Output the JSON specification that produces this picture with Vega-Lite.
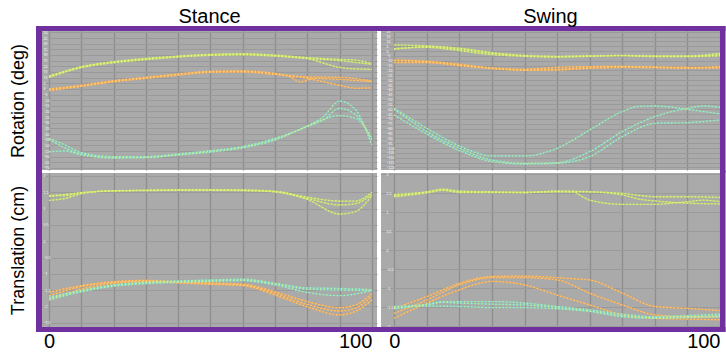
{
"$schema": "https://vega.github.io/schema/vega-lite/v6.json",
"background": "white",
"padding": {"left": 8, "top": 6, "right": 0, "bottom": 0},
"config": {
 "view": {"fill": "#aaaaaa", "stroke": null},
 "axis": {"domain": false, "ticks": false, "tickSize": 0, "tickCount": 200, "format": "~g", "labelFont": "Liberation Sans", "titleFont": "Liberation Sans", "labelOverlap": false, "titleFontWeight": "normal", "titleColor": "black", "labelFlush": false},
 "axisX": {"gridColor": "#8e8e8e", "gridOpacity": 1, "gridWidth": 1.3},
 "axisY": {"gridColor": "#9a9a9a", "gridOpacity": 1, "gridWidth": 1, "labelColor": "white", "labelFontSize": 3.5, "labelAlign": "left", "labelBaseline": "middle", "labelPadding": -1},
 "title": {"font": "Liberation Sans", "fontSize": 20, "fontWeight": "normal", "color": "black", "frame": "group", "anchor": "middle", "baseline": "alphabetic", "offset": -2}
},
"columns": 2,
"spacing": {"row": 3, "column": 4},
"bounds": "flush",
"concat": [
  {"width": 335, "height": 139, "title": "Stance",
   "data": {"values": [
    {"comp":"X","trial":1,"pct":0,"val":10.2},{"comp":"X","trial":1,"pct":10,"val":18.7},{"comp":"X","trial":1,"pct":20,"val":23.1},{"comp":"X","trial":1,"pct":30,"val":25.8},{"comp":"X","trial":1,"pct":40,"val":28.2},{"comp":"X","trial":1,"pct":50,"val":29.6},{"comp":"X","trial":1,"pct":60,"val":30.2},{"comp":"X","trial":1,"pct":70,"val":29.0},{"comp":"X","trial":1,"pct":80,"val":26.7},{"comp":"X","trial":1,"pct":90,"val":19.0},{"comp":"X","trial":1,"pct":95,"val":17.6},{"comp":"X","trial":1,"pct":100,"val":17.3},
    {"comp":"X","trial":2,"pct":0,"val":10.8},{"comp":"X","trial":2,"pct":10,"val":19.6},{"comp":"X","trial":2,"pct":20,"val":24.0},{"comp":"X","trial":2,"pct":30,"val":27.0},{"comp":"X","trial":2,"pct":40,"val":29.0},{"comp":"X","trial":2,"pct":50,"val":30.5},{"comp":"X","trial":2,"pct":60,"val":31.1},{"comp":"X","trial":2,"pct":70,"val":29.9},{"comp":"X","trial":2,"pct":80,"val":27.6},{"comp":"X","trial":2,"pct":90,"val":26.1},{"comp":"X","trial":2,"pct":95,"val":25.5},{"comp":"X","trial":2,"pct":100,"val":22.3},
    {"comp":"X","trial":3,"pct":0,"val":11.4},{"comp":"X","trial":3,"pct":10,"val":19.3},{"comp":"X","trial":3,"pct":20,"val":23.7},{"comp":"X","trial":3,"pct":30,"val":26.4},{"comp":"X","trial":3,"pct":40,"val":28.5},{"comp":"X","trial":3,"pct":50,"val":30.2},{"comp":"X","trial":3,"pct":60,"val":30.5},{"comp":"X","trial":3,"pct":70,"val":29.3},{"comp":"X","trial":3,"pct":80,"val":27.0},{"comp":"X","trial":3,"pct":90,"val":24.9},{"comp":"X","trial":3,"pct":100,"val":21.7},
    {"comp":"Y","trial":1,"pct":0,"val":-1.6},{"comp":"Y","trial":1,"pct":10,"val":2.2},{"comp":"Y","trial":1,"pct":20,"val":6.3},{"comp":"Y","trial":1,"pct":30,"val":9.3},{"comp":"Y","trial":1,"pct":40,"val":12.2},{"comp":"Y","trial":1,"pct":50,"val":14.6},{"comp":"Y","trial":1,"pct":60,"val":14.9},{"comp":"Y","trial":1,"pct":70,"val":12.8},{"comp":"Y","trial":1,"pct":80,"val":9.3},{"comp":"Y","trial":1,"pct":90,"val":3.1},{"comp":"Y","trial":1,"pct":95,"val":0.5},{"comp":"Y","trial":1,"pct":100,"val":1.0},
    {"comp":"Y","trial":2,"pct":0,"val":-0.1},{"comp":"Y","trial":2,"pct":10,"val":3.1},{"comp":"Y","trial":2,"pct":20,"val":7.2},{"comp":"Y","trial":2,"pct":30,"val":10.2},{"comp":"Y","trial":2,"pct":40,"val":13.1},{"comp":"Y","trial":2,"pct":50,"val":15.5},{"comp":"Y","trial":2,"pct":60,"val":15.8},{"comp":"Y","trial":2,"pct":70,"val":13.7},{"comp":"Y","trial":2,"pct":75,"val":10.2},{"comp":"Y","trial":2,"pct":78,"val":6.0},{"comp":"Y","trial":2,"pct":82,"val":9.3},{"comp":"Y","trial":2,"pct":90,"val":8.4},{"comp":"Y","trial":2,"pct":100,"val":6.3},
    {"comp":"Y","trial":3,"pct":0,"val":-0.7},{"comp":"Y","trial":3,"pct":10,"val":2.8},{"comp":"Y","trial":3,"pct":20,"val":6.6},{"comp":"Y","trial":3,"pct":30,"val":9.9},{"comp":"Y","trial":3,"pct":40,"val":12.8},{"comp":"Y","trial":3,"pct":50,"val":15.2},{"comp":"Y","trial":3,"pct":60,"val":15.5},{"comp":"Y","trial":3,"pct":70,"val":13.1},{"comp":"Y","trial":3,"pct":80,"val":10.5},{"comp":"Y","trial":3,"pct":90,"val":10.2},{"comp":"Y","trial":3,"pct":100,"val":6.9},
    {"comp":"Z","trial":1,"pct":0,"val":-43.8},{"comp":"Z","trial":1,"pct":5,"val":-49.7},{"comp":"Z","trial":1,"pct":10,"val":-56.5},{"comp":"Z","trial":1,"pct":20,"val":-60.0},{"comp":"Z","trial":1,"pct":30,"val":-60.0},{"comp":"Z","trial":1,"pct":40,"val":-57.6},{"comp":"Z","trial":1,"pct":50,"val":-54.7},{"comp":"Z","trial":1,"pct":60,"val":-51.1},{"comp":"Z","trial":1,"pct":70,"val":-43.8},{"comp":"Z","trial":1,"pct":80,"val":-32.9},{"comp":"Z","trial":1,"pct":85,"val":-24.6},{"comp":"Z","trial":1,"pct":90,"val":-10.8},{"comp":"Z","trial":1,"pct":95,"val":-18.7},{"comp":"Z","trial":1,"pct":100,"val":-49.7},
    {"comp":"Z","trial":2,"pct":0,"val":-44.7},{"comp":"Z","trial":2,"pct":10,"val":-57.6},{"comp":"Z","trial":2,"pct":20,"val":-60.6},{"comp":"Z","trial":2,"pct":30,"val":-60.6},{"comp":"Z","trial":2,"pct":40,"val":-58.2},{"comp":"Z","trial":2,"pct":50,"val":-55.3},{"comp":"Z","trial":2,"pct":60,"val":-51.7},{"comp":"Z","trial":2,"pct":70,"val":-44.4},{"comp":"Z","trial":2,"pct":80,"val":-33.5},{"comp":"Z","trial":2,"pct":85,"val":-27.6},{"comp":"Z","trial":2,"pct":90,"val":-17.2},{"comp":"Z","trial":2,"pct":95,"val":-23.1},{"comp":"Z","trial":2,"pct":100,"val":-43.8},
    {"comp":"Z","trial":3,"pct":0,"val":-55.6},{"comp":"Z","trial":3,"pct":5,"val":-55.0},{"comp":"Z","trial":3,"pct":10,"val":-58.5},{"comp":"Z","trial":3,"pct":20,"val":-61.2},{"comp":"Z","trial":3,"pct":30,"val":-60.9},{"comp":"Z","trial":3,"pct":40,"val":-58.5},{"comp":"Z","trial":3,"pct":50,"val":-55.9},{"comp":"Z","trial":3,"pct":60,"val":-52.3},{"comp":"Z","trial":3,"pct":70,"val":-45.3},{"comp":"Z","trial":3,"pct":80,"val":-32.9},{"comp":"Z","trial":3,"pct":90,"val":-23.7},{"comp":"Z","trial":3,"pct":95,"val":-26.1},{"comp":"Z","trial":3,"pct":100,"val":-45.3}
   ]},
   "layer": [
    {"mark": {"type": "line", "interpolate": "monotone", "strokeWidth": 1.3, "opacity": 0.85},
     "encoding": {
      "x": {"field": "pct", "type": "quantitative", "scale": {"domain": [-2.2, 101.6], "nice": false, "zero": false}, "axis": {"values": [0,10,20,30,40,50,60,70,80,90,100], "labels": false, "title": null}},
      "y": {"field": "val", "type": "quantitative", "scale": {"domain": [-71.8, 51.2], "nice": false, "zero": false}, "axis": {"values": [-70,-65,-60,-55,-50,-45,-40,-35,-30,-25,-20,-15,-10,-5,0,5,10,15,20,25,30,35,40,45,50], "title": "Rotation (deg)", "titleFontSize": 18, "titleX": -24, "titleBaseline": "middle"}},
      "color": {"field": "comp", "type": "nominal", "scale": {"domain": ["X","Y","Z"], "range": ["#b4da6e","#f0a25c","#74d2cf"]}, "legend": null},
      "detail": {"field": "trial"}}},
    {"mark": {"type": "line", "interpolate": "monotone", "strokeWidth": 1.3, "strokeDash": [1.5, 2], "opacity": 0.9},
     "encoding": {
      "x": {"field": "pct", "type": "quantitative"},
      "y": {"field": "val", "type": "quantitative"},
      "stroke": {"field": "comp", "type": "nominal", "scale": {"domain": ["X","Y","Z"], "range": ["#eef07c","#f8d070","#cdeb98"]}, "legend": null},
      "detail": {"field": "trial"}}},
    {"data": {"values": [{}]}, "mark": {"type": "rule", "color": "#7030a0", "strokeWidth": 6, "strokeCap": "square", "xOffset": -3, "yOffset": -2},
     "encoding": {"x": {"value": 0}, "y": {"value": 0}, "y2": {"value": "height"}}},
    {"data": {"values": [{}]}, "mark": {"type": "rule", "color": "#7030a0", "strokeWidth": 5, "strokeCap": "square", "yOffset": -2.5, "xOffset": -3.5},
     "encoding": {"y": {"value": 0}, "x": {"value": 0}, "x2": {"value": "width"}}}
   ]},
  {"width": 339, "height": 139, "title": "Swing",
   "data": {"values": [
    {"comp":"X","trial":1,"pct":0,"val":6.3},{"comp":"X","trial":1,"pct":10,"val":5.3},{"comp":"X","trial":1,"pct":20,"val":2.9},{"comp":"X","trial":1,"pct":30,"val":-1.6},{"comp":"X","trial":1,"pct":40,"val":-4.4},{"comp":"X","trial":1,"pct":50,"val":-5.4},{"comp":"X","trial":1,"pct":60,"val":-5.0},{"comp":"X","trial":1,"pct":70,"val":-4.4},{"comp":"X","trial":1,"pct":80,"val":-5.0},{"comp":"X","trial":1,"pct":90,"val":-5.0},{"comp":"X","trial":1,"pct":100,"val":-2.3},
    {"comp":"X","trial":2,"pct":0,"val":1.8},{"comp":"X","trial":2,"pct":10,"val":4.6},{"comp":"X","trial":2,"pct":20,"val":1.8},{"comp":"X","trial":2,"pct":30,"val":-2.3},{"comp":"X","trial":2,"pct":40,"val":-5.0},{"comp":"X","trial":2,"pct":50,"val":-5.7},{"comp":"X","trial":2,"pct":60,"val":-5.0},{"comp":"X","trial":2,"pct":70,"val":-4.7},{"comp":"X","trial":2,"pct":80,"val":-5.7},{"comp":"X","trial":2,"pct":90,"val":-5.7},{"comp":"X","trial":2,"pct":100,"val":-5.0},
    {"comp":"X","trial":3,"pct":0,"val":2.5},{"comp":"X","trial":3,"pct":10,"val":3.9},{"comp":"X","trial":3,"pct":20,"val":0.4},{"comp":"X","trial":3,"pct":30,"val":-3.7},{"comp":"X","trial":3,"pct":40,"val":-5.4},{"comp":"X","trial":3,"pct":50,"val":-6.1},{"comp":"X","trial":3,"pct":60,"val":-5.4},{"comp":"X","trial":3,"pct":70,"val":-4.7},{"comp":"X","trial":3,"pct":80,"val":-5.4},{"comp":"X","trial":3,"pct":90,"val":-5.4},{"comp":"X","trial":3,"pct":100,"val":-3.7},
    {"comp":"Y","trial":1,"pct":0,"val":-9.2},{"comp":"Y","trial":1,"pct":10,"val":-10.5},{"comp":"Y","trial":1,"pct":20,"val":-13.6},{"comp":"Y","trial":1,"pct":30,"val":-17.8},{"comp":"Y","trial":1,"pct":40,"val":-19.5},{"comp":"Y","trial":1,"pct":50,"val":-18.8},{"comp":"Y","trial":1,"pct":60,"val":-16.7},{"comp":"Y","trial":1,"pct":70,"val":-16.0},{"comp":"Y","trial":1,"pct":80,"val":-16.7},{"comp":"Y","trial":1,"pct":90,"val":-17.1},{"comp":"Y","trial":1,"pct":100,"val":-16.0},
    {"comp":"Y","trial":2,"pct":0,"val":-11.9},{"comp":"Y","trial":2,"pct":10,"val":-11.9},{"comp":"Y","trial":2,"pct":20,"val":-15.0},{"comp":"Y","trial":2,"pct":30,"val":-18.1},{"comp":"Y","trial":2,"pct":40,"val":-19.8},{"comp":"Y","trial":2,"pct":50,"val":-19.5},{"comp":"Y","trial":2,"pct":60,"val":-17.8},{"comp":"Y","trial":2,"pct":70,"val":-16.7},{"comp":"Y","trial":2,"pct":80,"val":-17.1},{"comp":"Y","trial":2,"pct":90,"val":-17.8},{"comp":"Y","trial":2,"pct":100,"val":-16.7},
    {"comp":"Y","trial":3,"pct":0,"val":-9.9},{"comp":"Y","trial":3,"pct":10,"val":-11.2},{"comp":"Y","trial":3,"pct":20,"val":-14.3},{"comp":"Y","trial":3,"pct":30,"val":-17.4},{"comp":"Y","trial":3,"pct":40,"val":-18.8},{"comp":"Y","trial":3,"pct":50,"val":-16.7},{"comp":"Y","trial":3,"pct":60,"val":-16.0},{"comp":"Y","trial":3,"pct":70,"val":-15.7},{"comp":"Y","trial":3,"pct":80,"val":-16.4},{"comp":"Y","trial":3,"pct":90,"val":-16.7},{"comp":"Y","trial":3,"pct":100,"val":-17.4},
    {"comp":"Z","trial":1,"pct":0,"val":-59.0},{"comp":"Z","trial":1,"pct":10,"val":-79.6},{"comp":"Z","trial":1,"pct":20,"val":-97.8},{"comp":"Z","trial":1,"pct":30,"val":-108.1},{"comp":"Z","trial":1,"pct":40,"val":-108.1},{"comp":"Z","trial":1,"pct":50,"val":-100.2},{"comp":"Z","trial":1,"pct":60,"val":-81.3},{"comp":"Z","trial":1,"pct":70,"val":-62.4},{"comp":"Z","trial":1,"pct":75,"val":-57.0},{"comp":"Z","trial":1,"pct":80,"val":-56.6},{"comp":"Z","trial":1,"pct":90,"val":-60.0},{"comp":"Z","trial":1,"pct":95,"val":-62.4},{"comp":"Z","trial":1,"pct":100,"val":-64.8},
    {"comp":"Z","trial":2,"pct":0,"val":-60.0},{"comp":"Z","trial":2,"pct":10,"val":-83.0},{"comp":"Z","trial":2,"pct":20,"val":-100.2},{"comp":"Z","trial":2,"pct":30,"val":-112.3},{"comp":"Z","trial":2,"pct":40,"val":-115.7},{"comp":"Z","trial":2,"pct":50,"val":-115.0},{"comp":"Z","trial":2,"pct":60,"val":-103.7},{"comp":"Z","trial":2,"pct":70,"val":-83.0},{"comp":"Z","trial":2,"pct":80,"val":-67.6},{"comp":"Z","trial":2,"pct":90,"val":-59.0},{"comp":"Z","trial":2,"pct":95,"val":-56.6},{"comp":"Z","trial":2,"pct":100,"val":-58.0},
    {"comp":"Z","trial":3,"pct":0,"val":-65.9},{"comp":"Z","trial":3,"pct":10,"val":-85.5},{"comp":"Z","trial":3,"pct":20,"val":-102.6},{"comp":"Z","trial":3,"pct":30,"val":-114.0},{"comp":"Z","trial":3,"pct":40,"val":-116.4},{"comp":"Z","trial":3,"pct":50,"val":-115.7},{"comp":"Z","trial":3,"pct":60,"val":-108.8},{"comp":"Z","trial":3,"pct":70,"val":-88.2},{"comp":"Z","trial":3,"pct":80,"val":-74.5},{"comp":"Z","trial":3,"pct":90,"val":-73.8},{"comp":"Z","trial":3,"pct":100,"val":-71.0}
   ]},
   "layer": [
    {"mark": {"type": "line", "interpolate": "monotone", "strokeWidth": 1.3, "opacity": 0.85},
     "encoding": {
      "x": {"field": "pct", "type": "quantitative", "scale": {"domain": [-4.05, 100], "nice": false, "zero": false}, "axis": {"values": [0,10,20,30,40,50,60,70,80,90,100], "labels": false, "title": null}},
      "y": {"field": "val", "type": "quantitative", "scale": {"domain": [-122.6, 20.7], "nice": false, "zero": false}, "axis": {"values": [-120,-115,-110,-105,-100,-95,-90,-85,-80,-75,-70,-65,-60,-55,-50,-45,-40,-35,-30,-25,-20,-15,-10,-5,0,5,10,15,20], "title": null, "labelPadding": -5}},
      "color": {"field": "comp", "type": "nominal", "scale": {"domain": ["X","Y","Z"], "range": ["#b4da6e","#f0a25c","#74d2cf"]}, "legend": null},
      "detail": {"field": "trial"}}},
    {"mark": {"type": "line", "interpolate": "monotone", "strokeWidth": 1.3, "strokeDash": [1.5, 2], "opacity": 0.9},
     "encoding": {
      "x": {"field": "pct", "type": "quantitative"},
      "y": {"field": "val", "type": "quantitative"},
      "stroke": {"field": "comp", "type": "nominal", "scale": {"domain": ["X","Y","Z"], "range": ["#eef07c","#f8d070","#cdeb98"]}, "legend": null},
      "detail": {"field": "trial"}}},
    {"data": {"values": [{}]}, "mark": {"type": "rule", "color": "#7030a0", "strokeWidth": 5, "strokeCap": "square", "yOffset": -2.5, "x2Offset": 3},
     "encoding": {"y": {"value": 0}, "x": {"value": 0}, "x2": {"value": "width"}}},
    {"data": {"values": [{}]}, "mark": {"type": "rule", "color": "#7030a0", "strokeWidth": 5.5, "strokeCap": "square", "xOffset": 2.75, "yOffset": -2},
     "encoding": {"x": {"value": "width"}, "y": {"value": 0}, "y2": {"value": "height"}}}
   ]},
  {"width": 335, "height": 154,
   "data": {"values": [
    {"comp":"X","trial":1,"pct":0,"val":1.40},{"comp":"X","trial":1,"pct":5,"val":1.40},{"comp":"X","trial":1,"pct":10,"val":1.49},{"comp":"X","trial":1,"pct":20,"val":1.54},{"comp":"X","trial":1,"pct":30,"val":1.56},{"comp":"X","trial":1,"pct":40,"val":1.57},{"comp":"X","trial":1,"pct":50,"val":1.57},{"comp":"X","trial":1,"pct":60,"val":1.57},{"comp":"X","trial":1,"pct":70,"val":1.53},{"comp":"X","trial":1,"pct":80,"val":1.35},{"comp":"X","trial":1,"pct":90,"val":1.23},{"comp":"X","trial":1,"pct":95,"val":1.23},{"comp":"X","trial":1,"pct":100,"val":1.50},
    {"comp":"X","trial":2,"pct":0,"val":1.37},{"comp":"X","trial":2,"pct":10,"val":1.48},{"comp":"X","trial":2,"pct":20,"val":1.54},{"comp":"X","trial":2,"pct":30,"val":1.56},{"comp":"X","trial":2,"pct":40,"val":1.57},{"comp":"X","trial":2,"pct":50,"val":1.57},{"comp":"X","trial":2,"pct":60,"val":1.56},{"comp":"X","trial":2,"pct":70,"val":1.52},{"comp":"X","trial":2,"pct":80,"val":1.31},{"comp":"X","trial":2,"pct":90,"val":1.11},{"comp":"X","trial":2,"pct":95,"val":1.15},{"comp":"X","trial":2,"pct":100,"val":1.44},
    {"comp":"X","trial":3,"pct":0,"val":1.25},{"comp":"X","trial":3,"pct":5,"val":1.31},{"comp":"X","trial":3,"pct":10,"val":1.46},{"comp":"X","trial":3,"pct":20,"val":1.55},{"comp":"X","trial":3,"pct":30,"val":1.55},{"comp":"X","trial":3,"pct":40,"val":1.56},{"comp":"X","trial":3,"pct":50,"val":1.56},{"comp":"X","trial":3,"pct":60,"val":1.55},{"comp":"X","trial":3,"pct":70,"val":1.51},{"comp":"X","trial":3,"pct":80,"val":1.28},{"comp":"X","trial":3,"pct":90,"val":0.83},{"comp":"X","trial":3,"pct":95,"val":0.91},{"comp":"X","trial":3,"pct":100,"val":1.40},
    {"comp":"Y","trial":1,"pct":0,"val":-1.57},{"comp":"Y","trial":1,"pct":10,"val":-1.36},{"comp":"Y","trial":1,"pct":20,"val":-1.24},{"comp":"Y","trial":1,"pct":30,"val":-1.20},{"comp":"Y","trial":1,"pct":40,"val":-1.24},{"comp":"Y","trial":1,"pct":50,"val":-1.28},{"comp":"Y","trial":1,"pct":60,"val":-1.32},{"comp":"Y","trial":1,"pct":70,"val":-1.55},{"comp":"Y","trial":1,"pct":80,"val":-1.85},{"comp":"Y","trial":1,"pct":90,"val":-2.04},{"comp":"Y","trial":1,"pct":95,"val":-1.95},{"comp":"Y","trial":1,"pct":100,"val":-1.60},
    {"comp":"Y","trial":2,"pct":0,"val":-1.67},{"comp":"Y","trial":2,"pct":10,"val":-1.39},{"comp":"Y","trial":2,"pct":20,"val":-1.26},{"comp":"Y","trial":2,"pct":30,"val":-1.22},{"comp":"Y","trial":2,"pct":40,"val":-1.26},{"comp":"Y","trial":2,"pct":50,"val":-1.30},{"comp":"Y","trial":2,"pct":60,"val":-1.34},{"comp":"Y","trial":2,"pct":70,"val":-1.60},{"comp":"Y","trial":2,"pct":80,"val":-1.94},{"comp":"Y","trial":2,"pct":90,"val":-2.14},{"comp":"Y","trial":2,"pct":95,"val":-2.05},{"comp":"Y","trial":2,"pct":100,"val":-1.68},
    {"comp":"Y","trial":3,"pct":0,"val":-1.80},{"comp":"Y","trial":3,"pct":10,"val":-1.47},{"comp":"Y","trial":3,"pct":20,"val":-1.29},{"comp":"Y","trial":3,"pct":30,"val":-1.24},{"comp":"Y","trial":3,"pct":40,"val":-1.28},{"comp":"Y","trial":3,"pct":50,"val":-1.32},{"comp":"Y","trial":3,"pct":60,"val":-1.36},{"comp":"Y","trial":3,"pct":70,"val":-1.65},{"comp":"Y","trial":3,"pct":80,"val":-2.01},{"comp":"Y","trial":3,"pct":90,"val":-2.26},{"comp":"Y","trial":3,"pct":95,"val":-2.15},{"comp":"Y","trial":3,"pct":100,"val":-1.80},
    {"comp":"Z","trial":1,"pct":0,"val":-1.72},{"comp":"Z","trial":1,"pct":10,"val":-1.51},{"comp":"Z","trial":1,"pct":20,"val":-1.34},{"comp":"Z","trial":1,"pct":30,"val":-1.26},{"comp":"Z","trial":1,"pct":40,"val":-1.22},{"comp":"Z","trial":1,"pct":50,"val":-1.19},{"comp":"Z","trial":1,"pct":60,"val":-1.16},{"comp":"Z","trial":1,"pct":70,"val":-1.29},{"comp":"Z","trial":1,"pct":80,"val":-1.43},{"comp":"Z","trial":1,"pct":90,"val":-1.45},{"comp":"Z","trial":1,"pct":100,"val":-1.49},
    {"comp":"Z","trial":2,"pct":0,"val":-1.75},{"comp":"Z","trial":2,"pct":10,"val":-1.53},{"comp":"Z","trial":2,"pct":20,"val":-1.36},{"comp":"Z","trial":2,"pct":30,"val":-1.28},{"comp":"Z","trial":2,"pct":40,"val":-1.24},{"comp":"Z","trial":2,"pct":50,"val":-1.21},{"comp":"Z","trial":2,"pct":60,"val":-1.19},{"comp":"Z","trial":2,"pct":70,"val":-1.31},{"comp":"Z","trial":2,"pct":80,"val":-1.47},{"comp":"Z","trial":2,"pct":90,"val":-1.50},{"comp":"Z","trial":2,"pct":100,"val":-1.51},
    {"comp":"Z","trial":3,"pct":0,"val":-1.80},{"comp":"Z","trial":3,"pct":10,"val":-1.55},{"comp":"Z","trial":3,"pct":20,"val":-1.38},{"comp":"Z","trial":3,"pct":30,"val":-1.30},{"comp":"Z","trial":3,"pct":40,"val":-1.26},{"comp":"Z","trial":3,"pct":50,"val":-1.23},{"comp":"Z","trial":3,"pct":60,"val":-1.21},{"comp":"Z","trial":3,"pct":70,"val":-1.34},{"comp":"Z","trial":3,"pct":80,"val":-1.57},{"comp":"Z","trial":3,"pct":90,"val":-1.67},{"comp":"Z","trial":3,"pct":100,"val":-1.51}
   ]},
   "layer": [
    {"mark": {"type": "line", "interpolate": "monotone", "strokeWidth": 1.3, "opacity": 0.85},
     "encoding": {
      "x": {"field": "pct", "type": "quantitative", "scale": {"domain": [-2.2, 101.6], "nice": false, "zero": false}, "axis": {"values": [0,10,20,30,40,50,60,70,80,90,100], "title": null, "labelExpr": "datum.value == 0 ? '0' : datum.value == 100 ? '100' : ''", "labelFontSize": 20, "labelColor": "black", "labelPadding": 4, "labelAlign": {"condition": {"test": "datum.value == 100", "value": "right"}, "value": "center"}}},
      "y": {"field": "val", "type": "quantitative", "scale": {"domain": [-2.63, 2.09], "nice": false, "zero": false}, "axis": {"values": [-2.5,-2,-1.5,-1,-0.5,0,0.5,1,1.5,2], "title": "Translation (cm)", "titleFontSize": 18, "titleX": -24, "titleBaseline": "middle"}},
      "color": {"field": "comp", "type": "nominal", "scale": {"domain": ["X","Y","Z"], "range": ["#b4da6e","#f0a25c","#74d2cf"]}, "legend": null},
      "detail": {"field": "trial"}}},
    {"mark": {"type": "line", "interpolate": "monotone", "strokeWidth": 1.3, "strokeDash": [1.5, 2], "opacity": 0.9},
     "encoding": {
      "x": {"field": "pct", "type": "quantitative"},
      "y": {"field": "val", "type": "quantitative"},
      "stroke": {"field": "comp", "type": "nominal", "scale": {"domain": ["X","Y","Z"], "range": ["#eef07c","#f8d070","#cdeb98"]}, "legend": null},
      "detail": {"field": "trial"}}},
    {"data": {"values": [{}]}, "mark": {"type": "rule", "color": "#7030a0", "strokeWidth": 6, "strokeCap": "square", "xOffset": -3, "y2Offset": 2},
     "encoding": {"x": {"value": 0}, "y": {"value": 0}, "y2": {"value": "height"}}},
    {"data": {"values": [{}]}, "mark": {"type": "rule", "color": "#7030a0", "strokeWidth": 5, "strokeCap": "square", "yOffset": 2.5, "xOffset": -3.5},
     "encoding": {"y": {"value": "height"}, "x": {"value": 0}, "x2": {"value": "width"}}}
   ]},
  {"width": 339, "height": 154,
   "data": {"values": [
    {"comp":"X","trial":1,"pct":0,"val":1.47},{"comp":"X","trial":1,"pct":10,"val":1.54},{"comp":"X","trial":1,"pct":15,"val":1.61},{"comp":"X","trial":1,"pct":20,"val":1.56},{"comp":"X","trial":1,"pct":30,"val":1.54},{"comp":"X","trial":1,"pct":40,"val":1.53},{"comp":"X","trial":1,"pct":50,"val":1.55},{"comp":"X","trial":1,"pct":60,"val":1.54},{"comp":"X","trial":1,"pct":70,"val":1.50},{"comp":"X","trial":1,"pct":80,"val":1.41},{"comp":"X","trial":1,"pct":90,"val":1.41},{"comp":"X","trial":1,"pct":100,"val":1.39},
    {"comp":"X","trial":2,"pct":0,"val":1.44},{"comp":"X","trial":2,"pct":10,"val":1.53},{"comp":"X","trial":2,"pct":15,"val":1.59},{"comp":"X","trial":2,"pct":20,"val":1.54},{"comp":"X","trial":2,"pct":30,"val":1.53},{"comp":"X","trial":2,"pct":40,"val":1.52},{"comp":"X","trial":2,"pct":50,"val":1.54},{"comp":"X","trial":2,"pct":55,"val":1.53},{"comp":"X","trial":2,"pct":58,"val":1.40},{"comp":"X","trial":2,"pct":60,"val":1.32},{"comp":"X","trial":2,"pct":70,"val":1.21},{"comp":"X","trial":2,"pct":80,"val":1.21},{"comp":"X","trial":2,"pct":90,"val":1.28},{"comp":"X","trial":2,"pct":95,"val":1.32},{"comp":"X","trial":2,"pct":100,"val":1.28},
    {"comp":"X","trial":3,"pct":0,"val":1.41},{"comp":"X","trial":3,"pct":10,"val":1.51},{"comp":"X","trial":3,"pct":15,"val":1.58},{"comp":"X","trial":3,"pct":20,"val":1.52},{"comp":"X","trial":3,"pct":30,"val":1.52},{"comp":"X","trial":3,"pct":40,"val":1.52},{"comp":"X","trial":3,"pct":50,"val":1.56},{"comp":"X","trial":3,"pct":60,"val":1.54},{"comp":"X","trial":3,"pct":70,"val":1.46},{"comp":"X","trial":3,"pct":75,"val":1.35},{"comp":"X","trial":3,"pct":80,"val":1.30},{"comp":"X","trial":3,"pct":90,"val":1.24},{"comp":"X","trial":3,"pct":100,"val":1.22},
    {"comp":"Y","trial":1,"pct":0,"val":-1.53},{"comp":"Y","trial":1,"pct":10,"val":-1.22},{"comp":"Y","trial":1,"pct":20,"val":-0.87},{"comp":"Y","trial":1,"pct":30,"val":-0.69},{"comp":"Y","trial":1,"pct":40,"val":-0.68},{"comp":"Y","trial":1,"pct":50,"val":-0.72},{"comp":"Y","trial":1,"pct":55,"val":-0.75},{"comp":"Y","trial":1,"pct":60,"val":-0.78},{"comp":"Y","trial":1,"pct":70,"val":-1.13},{"comp":"Y","trial":1,"pct":80,"val":-1.48},{"comp":"Y","trial":1,"pct":90,"val":-1.53},{"comp":"Y","trial":1,"pct":100,"val":-1.59},
    {"comp":"Y","trial":2,"pct":0,"val":-1.66},{"comp":"Y","trial":2,"pct":10,"val":-1.31},{"comp":"Y","trial":2,"pct":20,"val":-0.91},{"comp":"Y","trial":2,"pct":30,"val":-0.72},{"comp":"Y","trial":2,"pct":40,"val":-0.72},{"comp":"Y","trial":2,"pct":50,"val":-0.78},{"comp":"Y","trial":2,"pct":60,"val":-1.13},{"comp":"Y","trial":2,"pct":70,"val":-1.44},{"comp":"Y","trial":2,"pct":80,"val":-1.70},{"comp":"Y","trial":2,"pct":90,"val":-1.75},{"comp":"Y","trial":2,"pct":100,"val":-1.75},
    {"comp":"Y","trial":3,"pct":0,"val":-1.79},{"comp":"Y","trial":3,"pct":10,"val":-1.39},{"comp":"Y","trial":3,"pct":20,"val":-1.04},{"comp":"Y","trial":3,"pct":30,"val":-0.82},{"comp":"Y","trial":3,"pct":40,"val":-0.91},{"comp":"Y","trial":3,"pct":50,"val":-1.18},{"comp":"Y","trial":3,"pct":60,"val":-1.44},{"comp":"Y","trial":3,"pct":70,"val":-1.70},{"comp":"Y","trial":3,"pct":80,"val":-1.79},{"comp":"Y","trial":3,"pct":90,"val":-1.81},{"comp":"Y","trial":3,"pct":100,"val":-1.83},
    {"comp":"Z","trial":1,"pct":0,"val":-1.48},{"comp":"Z","trial":1,"pct":10,"val":-1.42},{"comp":"Z","trial":1,"pct":15,"val":-1.35},{"comp":"Z","trial":1,"pct":20,"val":-1.35},{"comp":"Z","trial":1,"pct":30,"val":-1.35},{"comp":"Z","trial":1,"pct":40,"val":-1.39},{"comp":"Z","trial":1,"pct":50,"val":-1.48},{"comp":"Z","trial":1,"pct":60,"val":-1.57},{"comp":"Z","trial":1,"pct":70,"val":-1.68},{"comp":"Z","trial":1,"pct":80,"val":-1.75},{"comp":"Z","trial":1,"pct":90,"val":-1.72},{"comp":"Z","trial":1,"pct":100,"val":-1.68},
    {"comp":"Z","trial":2,"pct":0,"val":-1.51},{"comp":"Z","trial":2,"pct":10,"val":-1.44},{"comp":"Z","trial":2,"pct":15,"val":-1.37},{"comp":"Z","trial":2,"pct":20,"val":-1.39},{"comp":"Z","trial":2,"pct":30,"val":-1.42},{"comp":"Z","trial":2,"pct":40,"val":-1.44},{"comp":"Z","trial":2,"pct":50,"val":-1.51},{"comp":"Z","trial":2,"pct":60,"val":-1.60},{"comp":"Z","trial":2,"pct":70,"val":-1.72},{"comp":"Z","trial":2,"pct":80,"val":-1.77},{"comp":"Z","trial":2,"pct":90,"val":-1.75},{"comp":"Z","trial":2,"pct":100,"val":-1.72},
    {"comp":"Z","trial":3,"pct":0,"val":-1.54},{"comp":"Z","trial":3,"pct":10,"val":-1.47},{"comp":"Z","trial":3,"pct":20,"val":-1.48},{"comp":"Z","trial":3,"pct":30,"val":-1.51},{"comp":"Z","trial":3,"pct":40,"val":-1.51},{"comp":"Z","trial":3,"pct":50,"val":-1.54},{"comp":"Z","trial":3,"pct":60,"val":-1.61},{"comp":"Z","trial":3,"pct":70,"val":-1.75},{"comp":"Z","trial":3,"pct":80,"val":-1.79},{"comp":"Z","trial":3,"pct":90,"val":-1.77},{"comp":"Z","trial":3,"pct":100,"val":-1.75}
   ]},
   "layer": [
    {"mark": {"type": "line", "interpolate": "monotone", "strokeWidth": 1.3, "opacity": 0.85},
     "encoding": {
      "x": {"field": "pct", "type": "quantitative", "scale": {"domain": [-4.05, 100], "nice": false, "zero": false}, "axis": {"values": [0,10,20,30,40,50,60,70,80,90,100], "title": null, "labelExpr": "datum.value == 0 ? '0' : datum.value == 100 ? '100' : ''", "labelFontSize": 20, "labelColor": "black", "labelPadding": 4, "labelAlign": {"condition": {"test": "datum.value == 100", "value": "right"}, "value": "center"}}},
      "y": {"field": "val", "type": "quantitative", "scale": {"domain": [-2.02, 2.035], "nice": false, "zero": false}, "axis": {"values": [-2,-1.5,-1,-0.5,0,0.5,1,1.5,2], "title": null, "labelPadding": -5}},
      "color": {"field": "comp", "type": "nominal", "scale": {"domain": ["X","Y","Z"], "range": ["#b4da6e","#f0a25c","#74d2cf"]}, "legend": null},
      "detail": {"field": "trial"}}},
    {"mark": {"type": "line", "interpolate": "monotone", "strokeWidth": 1.3, "strokeDash": [1.5, 2], "opacity": 0.9},
     "encoding": {
      "x": {"field": "pct", "type": "quantitative"},
      "y": {"field": "val", "type": "quantitative"},
      "stroke": {"field": "comp", "type": "nominal", "scale": {"domain": ["X","Y","Z"], "range": ["#eef07c","#f8d070","#cdeb98"]}, "legend": null},
      "detail": {"field": "trial"}}},
    {"data": {"values": [{}]}, "mark": {"type": "rule", "color": "#7030a0", "strokeWidth": 5.5, "strokeCap": "square", "xOffset": 2.75, "y2Offset": 2},
     "encoding": {"x": {"value": "width"}, "y": {"value": 0}, "y2": {"value": "height"}}},
    {"data": {"values": [{}]}, "mark": {"type": "rule", "color": "#7030a0", "strokeWidth": 5, "strokeCap": "square", "yOffset": 2.5, "x2Offset": 3},
     "encoding": {"y": {"value": "height"}, "x": {"value": 0}, "x2": {"value": "width"}}}
   ]}
]
}
